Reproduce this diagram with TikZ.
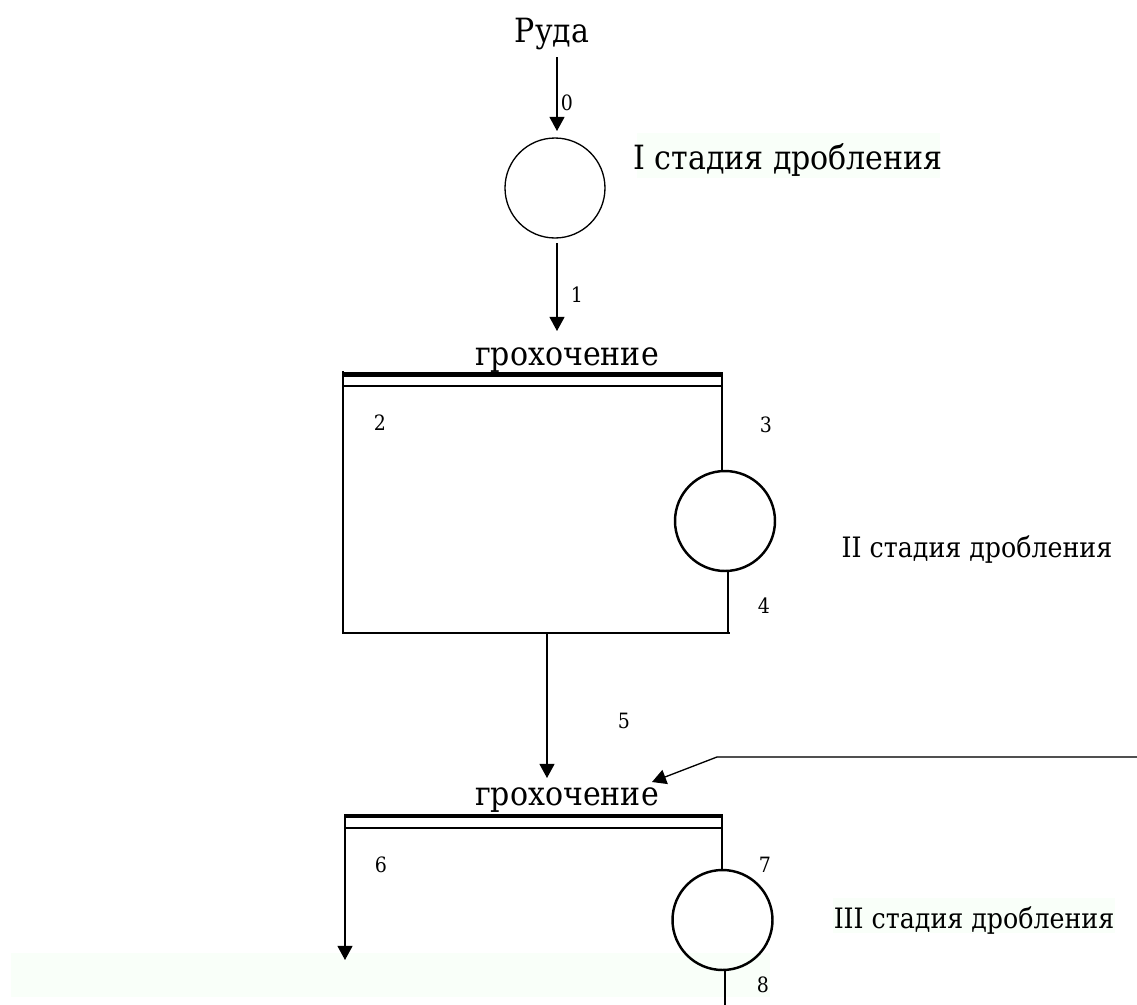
\documentclass[tikz,border=0pt]{standalone}
\usepackage{fontspec}
\setmainfont{DejaVu Serif Condensed}
\usetikzlibrary{arrows.meta}
\definecolor{paleg}{RGB}{249,255,249}
\definecolor{feedgray}{RGB}{80,80,80}
\begin{document}
\begin{tikzpicture}[x=0.02cm,y=-0.02cm,
  bigtxt/.style={font=\fontsize{19}{23}\selectfont, anchor=base, inner sep=0},
  midtxt/.style={font=\fontsize{16}{19}\selectfont, anchor=base, inner sep=0},
  numtxt/.style={font=\fontsize{12}{14}\selectfont, anchor=base, inner sep=0},
  thin/.style={line width=0.75pt},
  arr/.style={line width=0.75pt, -{Triangle[length=8pt,width=8.5pt]}},
  grate/.style={line width=2.8pt},
  crusher/.style={circle, draw, minimum size=2cm, inner sep=0}]
\useasboundingbox (0,0) rectangle (1137,1005);
% pale backgrounds
\fill[paleg] (637,133) rectangle (940,178);
\fill[paleg] (833,898) rectangle (1115,933);
\fill[paleg] (11,953) rectangle (770,997);

% texts
\node[bigtxt] (ruda) at (552,42) {Руда};
\node[bigtxt] (st1) at (788,169) {I стадия дробления};
\node[bigtxt] (gr1) at (567,365) {грохочение};
\node[bigtxt] (gr2) at (567,805) {грохочение};
\node[midtxt] (st2) at (977,557) {II стадия дробления};
\node[midtxt] (st3) at (974,928) {III стадия дробления};

\node[numtxt] (n0) at (567,110) {0};
\node[numtxt] (n1) at (577,302) {1};
\node[numtxt] (n2) at (380,430) {2};
\node[numtxt] (n3) at (766,432) {3};
\node[numtxt] (n4) at (764,613) {4};
\node[numtxt] (n5) at (624,728) {5};
\node[numtxt] (n6) at (381,872) {6};
\node[numtxt] (n7) at (765,872) {7};
\node[numtxt] (n8) at (763,992) {8};

% crushers
\node[crusher, thin] (c1) at (555,188) {};
\node[crusher, line width=1.4pt] (c2) at (725,521) {};
\node[crusher, line width=1.4pt] (c3) at (722.5,920) {};

% coordinates
\coordinate (a0s) at (557,57);
\coordinate (a0e) at (557,131);
\coordinate (a1s) at (557,243);
\coordinate (a1e) at (557,331);
\coordinate (g1l) at (343,374.5);
\coordinate (g1r) at (722,374.5);
\coordinate (g1lt) at (343,386);
\coordinate (g1rt) at (722,386);
\coordinate (g1lb) at (343,633);
\coordinate (c2top) at (722,471);
\coordinate (c2bot) at (728,571);
\coordinate (c2bb) at (728,633);
\coordinate (hb) at (730,633);
\coordinate (a5s) at (547,633);
\coordinate (a5e) at (547,778);
\coordinate (g2l) at (345,816);
\coordinate (g2r) at (722,816);
\coordinate (g2lt) at (345,828);
\coordinate (g2rt) at (722,828);
\coordinate (a6e) at (345,960);
\coordinate (c3top) at (722,870);
\coordinate (c3bot) at (725,971);
\coordinate (c3out) at (725,1005);
\coordinate (fd0) at (1137,757);
\coordinate (fd1) at (717,757);
\coordinate (fd2) at (652,782);

% flows
\draw[arr] (a0s) -- (a0e);
\draw[arr] (a1s) -- (a1e);

% screen 1
\draw[grate] (g1l) -- (g1r);
\draw[thin] (g1lt) -- (g1rt);
\draw[thin] (343,371) -- (g1lb) -- (hb);
\draw[thin] (722,372) -- (c2top);
\draw[thin] (c2bot) -- (c2bb);
\draw[arr] (a5s) -- (a5e);

% screen 2
\draw[grate] (g2l) -- (g2r);
\draw[thin] (g2lt) -- (g2rt);
\draw[arr] (345,814) -- (a6e);
\draw[thin] (722,814) -- (c3top);
\draw[thin] (c3bot) -- (c3out);

% recycle feed
\draw[thin, feedgray] (fd0) -- (fd1);
\draw[arr] (fd1) -- (fd2);
\end{tikzpicture}
\end{document}
